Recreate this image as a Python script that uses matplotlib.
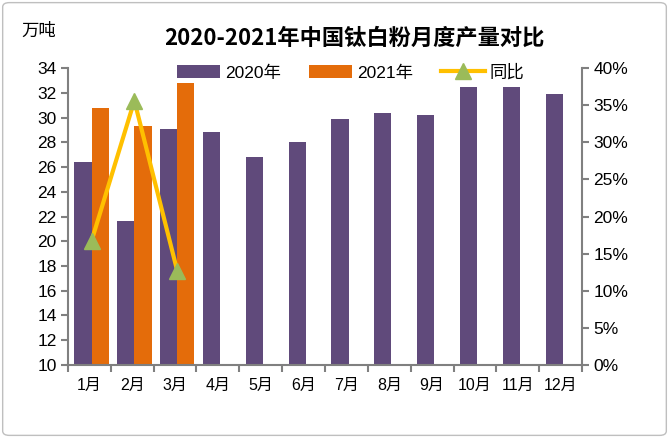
import matplotlib
matplotlib.use('Agg')
import matplotlib.pyplot as plt
from matplotlib.patches import FancyBboxPatch
from matplotlib.ticker import FuncFormatter
import numpy as np

plt.rcParams['font.family'] = ['Liberation Sans', 'Noto Sans CJK SC', 'DejaVu Sans']

# data
months = ['1月', '2月', '3月', '4月', '5月', '6月', '7月', '8月', '9月', '10月', '11月', '12月']
prod_2020 = [26.4, 21.6, 29.1, 28.8, 26.8, 28.0, 29.9, 30.4, 30.2, 32.5, 32.5, 31.9]
prod_2021 = [30.8, 29.3, 32.8]
yoy = [16.7, 35.6, 12.7]

c2020 = '#604A7B'
c2021 = '#E46C0A'
cline = '#FFC000'
cmark = '#9BBB59'
grey = '#808080'

fig = plt.figure(figsize=(6.69, 4.38), dpi=100)
fig.patches.append(FancyBboxPatch((0.004, 0.006), 0.992, 0.988, boxstyle='round,pad=0,rounding_size=0.01',
                                  transform=fig.transFigure, fill=False, ec='#BFBFBF', lw=1))

ax = fig.add_axes([0.1016, 0.1667, 0.7684, 0.678])
x = np.arange(len(months))
w = 0.4
ax.bar(x - w / 2 + 0.05, prod_2020, w, color=c2020, label='2020年', zorder=2)
ax.bar(x[:len(prod_2021)] + w / 2 + 0.05, prod_2021, w, color=c2021, label='2021年', zorder=2)
ax.set_ylim(10, 34)
ax.set_yticks(np.arange(10, 35, 2))
ax.set_xlim(-0.5, 11.5)
ax.set_xticks(x)
ax.set_xticklabels(months)
ax.set_xticks(np.arange(-0.5, 12, 1), minor=True)
ax.tick_params(axis='x', which='major', length=0, labelsize=11.5, pad=9)
ax.tick_params(axis='x', which='minor', length=5, color=grey, width=1.5)
ax.tick_params(axis='y', length=5, color=grey, width=1.5, labelsize=12.5, pad=3)
for s in ['top', 'right']:
    ax.spines[s].set_visible(False)
for s in ['left', 'bottom']:
    ax.spines[s].set_color(grey)
    ax.spines[s].set_linewidth(1.5)

ax2 = ax.twinx()
ax2.plot(x[:len(yoy)] + 0.05, yoy, color=cline, lw=3, marker='^', ms=12, mfc=cmark, mec=cmark,
         label='同比', zorder=3)
ax2.set_ylim(0, 40)
ax2.set_yticks(np.arange(0, 41, 5))
ax2.yaxis.set_major_formatter(FuncFormatter(lambda v, p: '%d%%' % v))
ax2.tick_params(axis='y', length=5, color=grey, width=1.5, labelsize=12.5, pad=3)
for s in ['top', 'left', 'bottom']:
    ax2.spines[s].set_visible(False)
ax2.spines['right'].set_color(grey)
ax2.spines['right'].set_linewidth(1.5)

h1, l1 = ax.get_legend_handles_labels()
h2, l2 = ax2.get_legend_handles_labels()
ax2.legend(h1 + h2, l1 + l2, loc='upper center', bbox_to_anchor=(0.55, 1.065), ncol=3, frameon=False,
           fontsize=12.5, handlelength=2.5, handleheight=0.8, columnspacing=1.6, handletextpad=0.3)

fig.text(0.53, 0.913, '2020-2021年中国钛白粉月度产量对比', ha='center', va='center', fontsize=16,
         fontweight='bold', family=['Noto Sans CJK SC'])
fig.text(0.032, 0.93, '万吨', ha='left', va='center', fontsize=12.5)

fig.savefig('out.png', dpi=100)
